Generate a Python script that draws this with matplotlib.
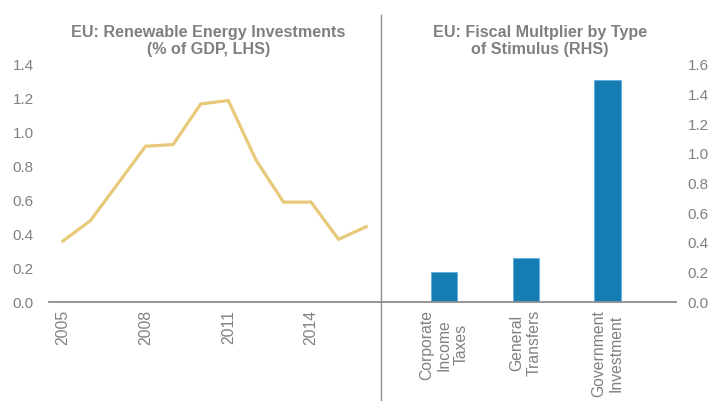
import matplotlib
matplotlib.use("Agg")
import matplotlib.pyplot as plt
from matplotlib.lines import Line2D

plt.rcParams['font.family'] = ['Liberation Sans', 'DejaVu Sans']

# left panel: renewable energy investments, % of GDP
years = [2005, 2006, 2007, 2008, 2009, 2010, 2011, 2012, 2013, 2014, 2015, 2016]
renewables = [0.36, 0.48, 0.70, 0.92, 0.93, 1.17, 1.19, 0.84, 0.59, 0.59, 0.37, 0.445]
year_ticks = [2005, 2008, 2011, 2014]

# right panel: fiscal multiplier by stimulus type
stimulus = ["Corporate\nIncome\nTaxes", "General\nTransfers", "Government\nInvestment"]
multiplier = [0.2, 0.3, 1.5]

grey = "#808080"
line_col = "#E8C979"
bar_col = "#167CB4"

fig = plt.figure(figsize=(7.15, 4.01), dpi=100)

W, H = 715, 401
def box(x0, x1, y0, y1):
    return [x0 / W, 1 - y1 / H, (x1 - x0) / W, (y1 - y0) / H]

ax1 = fig.add_axes(box(49, 380, 65, 302))
ax2 = fig.add_axes(box(381, 676, 65, 302))

# line chart
ax1.plot(years, renewables, color=line_col, lw=2.3, solid_joinstyle="miter")
ax1.set_xlim(years[0] - 0.5, years[-1] + 0.5)
ax1.set_ylim(0, 1.4)
ax1.set_yticks([0.0, 0.2, 0.4, 0.6, 0.8, 1.0, 1.2, 1.4])
ax1.set_yticklabels([f"{v:.1f}" for v in ax1.get_yticks()])
ax1.set_xticks(year_ticks)
ax1.set_xticklabels([str(y) for y in year_ticks], rotation=90, va="top", ha="center")
ax1.tick_params(axis="y", length=0, pad=11, labelsize=11, labelcolor=grey)
ax1.tick_params(axis="x", length=0, pad=5.5, labelsize=11.3, labelcolor=grey)

# bar chart
xs = range(len(stimulus))
ax2.bar(xs, multiplier, width=0.326, color=bar_col, edgecolor="#5FB0DF", linewidth=0.6)
ax2.set_xlim(-0.77, 2.834)
ax2.set_ylim(0, 1.6)
ax2.yaxis.tick_right()
ax2.set_yticks([0.0, 0.2, 0.4, 0.6, 0.8, 1.0, 1.2, 1.4, 1.6])
ax2.set_yticklabels([f"{v:.1f}" for v in ax2.get_yticks()])
ax2.set_xticks(list(xs))
ax2.set_xticklabels(stimulus, rotation=90, va="top", ha="center", multialignment="center")
ax2.tick_params(axis="y", length=0, pad=8.5, labelsize=11, labelcolor=grey)
ax2.tick_params(axis="x", length=0, pad=5.5, labelsize=11.3, labelcolor=grey)

for ax in (ax1, ax2):
    for s in ("top", "left", "right"):
        ax.spines[s].set_visible(False)
    ax.spines["bottom"].set_color("#8C8C8C")
    ax.spines["bottom"].set_linewidth(1.3)
    ax.patch.set_alpha(0)

# separator between the panels
fig.add_artist(Line2D([381 / W, 381 / W], [0, 1 - 15 / H], color="#8C8C8C", lw=1.0))

fig.text(208.5 / W, 1 - 40.8 / H, "EU: Renewable Energy Investments\n(% of GDP, LHS)",
         ha="center", va="center", fontsize=11.6, fontweight="bold", color=grey,
         linespacing=1.13)
fig.text(540 / W, 1 - 40.8 / H, "EU: Fiscal Multplier by Type\nof Stimulus (RHS)",
         ha="center", va="center", fontsize=11.6, fontweight="bold", color=grey,
         linespacing=1.13)

fig.savefig("out.png", dpi=100)
